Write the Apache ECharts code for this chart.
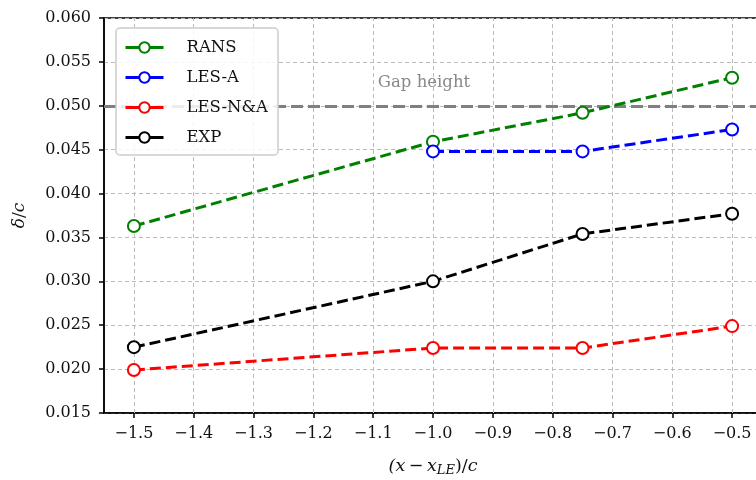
<!DOCTYPE html>
<html><head><meta charset="utf-8">
<script src="https://cdn.jsdelivr.net/npm/echarts@6/dist/echarts.min.js"></script>
<style>html,body{margin:0;padding:0;background:#fff}#c{width:756px;height:480px}</style>
</head><body><div id="c"></div>
<script>
const xRANS = [-1.5, -1.0, -0.75, -0.5];
const yRANS = [0.0363, 0.0459, 0.0492, 0.0532];
const xLESA = [-1.0, -0.75, -0.5];
const yLESA = [0.0448, 0.0448, 0.0473];
const xLESNA = [-1.5, -1.0, -0.75, -0.5];
const yLESNA = [0.0199, 0.0224, 0.0224, 0.0249];
const xEXP = [-1.5, -1.0, -0.75, -0.5];
const yEXP = [0.0225, 0.0300, 0.0354, 0.0377];
const xTicks = [-1.5, -1.4, -1.3, -1.2, -1.1, -1.0, -0.9, -0.8, -0.7, -0.6, -0.5];
const gapHeight = 0.05;
const gapLabel = 'Gap height';
const seriesNames = ['RANS', 'LES-A', 'LES-N&A', 'EXP'];
const colors = ['#008000', '#0000ff', '#ff0000', '#000000'];

const FONT = 'DejaVu Serif';
const chart = echarts.init(document.getElementById('c'), null, {renderer: 'canvas'});
const zip = (xs, ys) => xs.map((x, i) => [x, ys[i]]);
const dataSets = [zip(xRANS, yRANS), zip(xLESA, yLESA), zip(xLESNA, yLESNA), zip(xEXP, yEXP)];
const minus = v => (v < -1e-9 ? '\u2212' : '') + Math.abs(v).toFixed(1);
const gridLine = {color: '#bbb', type: [4, 3], width: 1};

const series = dataSets.map((d, i) => ({
  name: seriesNames[i], type: 'line', data: d, z: 5 + i,
  symbol: 'circle', symbolSize: 12,
  itemStyle: {color: '#fff', borderColor: colors[i], borderWidth: 2},
  lineStyle: {color: colors[i], width: 3, type: [11, 5]},
  color: colors[i]
}));
series.unshift({
  name: 'gap', type: 'line', data: [], z: 2,
  markLine: {
    silent: true, symbol: 'none', animation: false,
    lineStyle: {color: '#808080', width: 3, type: [12, 5]},
    label: {show: true, position: 'insideMiddleTop', formatter: gapLabel, color: '#888', fontFamily: FONT, fontSize: 16.5, distance: [0, 15], offset: [-9, 0]},
    data: [{yAxis: gapHeight}]
  }
});
series.unshift({
  name: 'xgrid', type: 'line', data: [], z: 1,
  markLine: {
    silent: true, symbol: 'none', animation: false, label: {show: false},
    lineStyle: gridLine,
    data: xTicks.map(v => ({xAxis: v}))
  }
});

chart.setOption({
  animation: false,
  backgroundColor: '#fff',
  grid: {left: 104, right: -6, top: 18, bottom: 67, show: true, borderColor: '#000', borderWidth: 1.5,
         backgroundColor: 'transparent', containLabel: false, outerBoundsMode: 'none'},
  legend: {
    data: seriesNames, orient: 'vertical', left: 116, top: 28, z: 20, zlevel: 1,
    padding: [11, 10, 9, 8], itemGap: 13, itemWidth: 38, itemHeight: 13,
    backgroundColor: 'rgba(255,255,255,0.85)', borderColor: '#ccc', borderWidth: 1.5, borderRadius: 4,
    textStyle: {fontFamily: FONT, fontSize: 16.5, color: '#111', padding: [0, 0, 0, 18]},
    lineStyle: {type: 'solid', width: 3},
    itemStyle: {borderWidth: 2}
  },
  xAxis: {
    type: 'value', min: -1.55, max: -0.45,
    name: '{i|(x\u2009\u2212\u2009x}{s|LE}{n|)/}{i|c}', nameLocation: 'middle', nameGap: 42,
    nameTextStyle: {rich: {
      i: {fontFamily: FONT, fontStyle: 'italic', fontSize: 17.5, color: '#111'},
      n: {fontFamily: FONT, fontSize: 17.5, color: '#111'},
      s: {fontFamily: FONT, fontStyle: 'italic', fontSize: 13, color: '#111', verticalAlign: 'bottom', padding: [9, 0, 0, 0]}
    }},
    axisLine: {onZero: false, lineStyle: {color: '#000', width: 1.5}},
    axisTick: {show: true, length: 5, customValues: xTicks, lineStyle: {color: '#000', width: 1.5}},
    axisLabel: {fontFamily: FONT, fontSize: 16, color: '#111', margin: 13, customValues: xTicks, formatter: minus},
    splitLine: {show: false}
  },
  yAxis: {
    type: 'value', min: 0.015, max: 0.060, interval: 0.005,
    name: '{i|\u03b4}{n|/}{i|c}', nameLocation: 'middle', nameGap: 76, nameRotate: 90,
    nameTextStyle: {rich: {
      i: {fontFamily: FONT, fontStyle: 'italic', fontSize: 17, color: '#111'},
      n: {fontFamily: FONT, fontSize: 17, color: '#111'}
    }},
    axisLine: {show: true, onZero: false, lineStyle: {color: '#000', width: 1.5}},
    axisTick: {show: true, length: 5, lineStyle: {color: '#000', width: 1.5}},
    axisLabel: {fontFamily: FONT, fontSize: 16, color: '#111', margin: 13, formatter: v => v.toFixed(3)},
    splitLine: {show: true, lineStyle: gridLine}
  },
  series: series
});
</script></body></html>
